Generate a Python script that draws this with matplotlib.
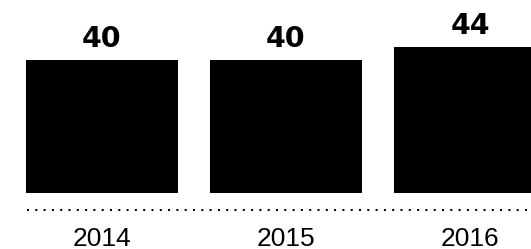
import matplotlib
matplotlib.use("Agg")
import matplotlib.pyplot as plt
import matplotlib.transforms as mtransforms

years = ["2014", "2015", "2016"]
values = [40, 40, 44]

plt.rcParams['font.family'] = ['Liberation Sans', 'DejaVu Sans']

fig = plt.figure(figsize=(5.31, 2.49), dpi=100)
ax = fig.add_axes([0, 0, 1, 1])
ax.set_axis_off()

x = list(range(len(years)))
bars = ax.bar(x, values, width=0.826, color="black")

ax.set_xlim(-0.554, 2.3315)
ax.set_ylim(-16.87, 58.13)

# dotted baseline
ax.plot([-0.405, 2.4], [-5.1, -5.1], color="black", linewidth=1.44,
        linestyle=(0, (1.0, 3.15)), dash_capstyle="butt", clip_on=False)

for xi, v in zip(x, values):
    ax.annotate(str(v), (xi, v), xytext=(0, 9.5), textcoords="offset points",
                ha="center", va="baseline", fontsize=20.5, fontweight="bold",
                family="DejaVu Sans")

trans = mtransforms.blended_transform_factory(ax.transData, ax.transAxes)
for xi, y in zip(x, years):
    ax.text(xi, 3.5 / 249, y, transform=trans, ha="center", va="baseline",
            fontsize=19)

fig.savefig("out.png", dpi=100)
